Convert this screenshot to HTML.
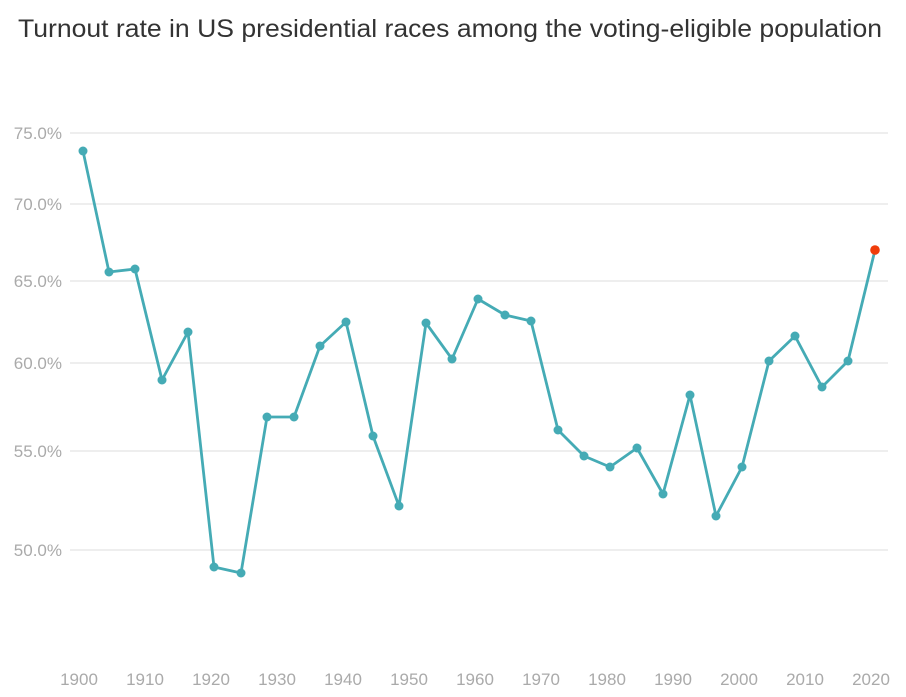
<!DOCTYPE html>
<html><head><meta charset="utf-8"><style>body{margin:0;background:#fff}svg{display:block}</style></head>
<body>
<svg width="906" height="697" xmlns="http://www.w3.org/2000/svg" font-family="Liberation Sans, sans-serif">
<text x="18" y="37" font-size="25" fill="#333" textLength="864" lengthAdjust="spacingAndGlyphs">Turnout rate in US presidential races among the voting-eligible population</text>
<g stroke="#e3e3e3" stroke-width="1.3">
<line x1="70" x2="888" y1="133" y2="133"/><line x1="70" x2="888" y1="204" y2="204"/>
<line x1="70" x2="888" y1="281" y2="281"/><line x1="70" x2="888" y1="363" y2="363"/>
<line x1="70" x2="888" y1="451" y2="451"/><line x1="70" x2="888" y1="550" y2="550"/>
</g>
<g font-size="17" fill="#aaa" text-anchor="end">
<text x="62" y="139">75.0%</text><text x="62" y="210">70.0%</text><text x="62" y="287">65.0%</text>
<text x="62" y="369">60.0%</text><text x="62" y="457">55.0%</text><text x="62" y="556">50.0%</text>
</g>
<g font-size="17" fill="#aaa" text-anchor="middle">
<text x="79" y="685">1900</text><text x="145" y="685">1910</text><text x="211" y="685">1920</text><text x="277" y="685">1930</text><text x="343" y="685">1940</text><text x="409" y="685">1950</text><text x="475" y="685">1960</text><text x="541" y="685">1970</text><text x="607" y="685">1980</text><text x="673" y="685">1990</text><text x="739" y="685">2000</text><text x="805" y="685">2010</text><text x="871" y="685">2020</text>
</g>
<polyline fill="none" stroke="#45abb5" stroke-width="2.8" stroke-linejoin="round" points="83,151 109,272 135,269 162,380 188,332 214,567 241,573 267,417 294,417 320,346 346,322 373,436 399,506 426,323 452,359 478,299 505,315 531,321 558,430 584,456 610,467 637,448 663,494 690,395 716,516 742,467 769,361 795,336 822,387 848,361 875,250"/>
<g fill="#45abb5">
<circle cx="83" cy="151" r="4.5"/><circle cx="109" cy="272" r="4.5"/><circle cx="135" cy="269" r="4.5"/><circle cx="162" cy="380" r="4.5"/><circle cx="188" cy="332" r="4.5"/><circle cx="214" cy="567" r="4.5"/><circle cx="241" cy="573" r="4.5"/><circle cx="267" cy="417" r="4.5"/><circle cx="294" cy="417" r="4.5"/><circle cx="320" cy="346" r="4.5"/><circle cx="346" cy="322" r="4.5"/><circle cx="373" cy="436" r="4.5"/><circle cx="399" cy="506" r="4.5"/><circle cx="426" cy="323" r="4.5"/><circle cx="452" cy="359" r="4.5"/><circle cx="478" cy="299" r="4.5"/><circle cx="505" cy="315" r="4.5"/><circle cx="531" cy="321" r="4.5"/><circle cx="558" cy="430" r="4.5"/><circle cx="584" cy="456" r="4.5"/><circle cx="610" cy="467" r="4.5"/><circle cx="637" cy="448" r="4.5"/><circle cx="663" cy="494" r="4.5"/><circle cx="690" cy="395" r="4.5"/><circle cx="716" cy="516" r="4.5"/><circle cx="742" cy="467" r="4.5"/><circle cx="769" cy="361" r="4.5"/><circle cx="795" cy="336" r="4.5"/><circle cx="822" cy="387" r="4.5"/><circle cx="848" cy="361" r="4.5"/>
</g>
<circle cx="875" cy="250" r="4.8" fill="#f03c0a"/>
</svg>
</body></html>
